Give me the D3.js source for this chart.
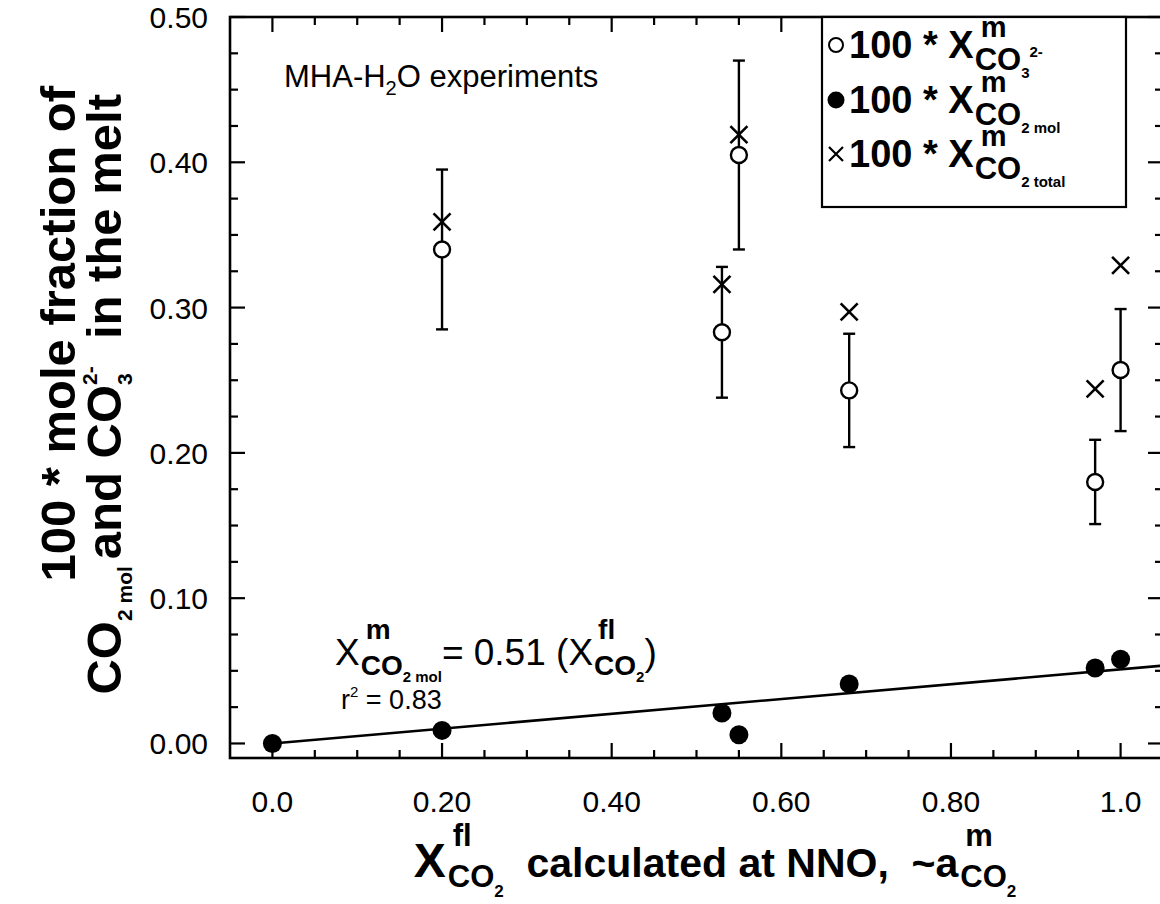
<!DOCTYPE html>
<html>
<head>
<meta charset="utf-8">
<script src="https://cdn.jsdelivr.net/npm/d3@7"></script>
<style>
  html, body { margin: 0; padding: 0; background: #fff; }
  svg { display: block; font-family: "Liberation Sans", Arial, Helvetica, sans-serif; }
</style>
</head>
<body>
<svg id="chart" width="1160" height="904"></svg>
<script>
// Fluid CO2 mole fraction (calculated at NNO) for each experiment
const xFluid = [0.0, 0.20, 0.53, 0.55, 0.68, 0.97, 1.0];
// 100 * mole fraction of molecular CO2 in the melt
const co2Mol = [0.000, 0.009, 0.021, 0.006, 0.041, 0.052, 0.058];
// Experiments with carbonate measurements
const xCarb = [0.20, 0.53, 0.55, 0.68, 0.97, 1.0];
// 100 * mole fraction of CO3^2- in the melt and its uncertainty
const carbonate = [0.340, 0.283, 0.405, 0.243, 0.180, 0.257];
const carbonateErr = [0.055, 0.045, 0.065, 0.039, 0.029, 0.042];
// 100 * total CO2 mole fraction in the melt
const co2Total = [0.359, 0.316, 0.419, 0.297, 0.244, 0.329];
// Linear fit of molecular CO2 through the origin (0.51 in units of 10^-3 mole fraction)
const fitSlope = 0.51 / 10;
// Axis ticks
const xMajorTicks = [0.0, 0.2, 0.4, 0.6, 0.8, 1.0];
const xTickLabels = ["0.0", "0.20", "0.40", "0.60", "0.80", "1.0"];
const yMajorTicks = [0.0, 0.1, 0.2, 0.3, 0.4, 0.5];
const yTickLabels = ["0.00", "0.10", "0.20", "0.30", "0.40", "0.50"];

const svg = d3.select("#chart");
const frame = { left: 230, right: 1163, top: 17, bottom: 758 };

const x = d3.scaleLinear().domain([-0.05, 1.05]).range([frame.left, frame.right]);
const y = d3.scaleLinear().domain([-0.01, 0.5]).range([frame.bottom, frame.top]);

const xMinor = d3.range(0, 21).map(i => i * 0.05);
const yMinor = d3.range(0, 21).map(i => i * 0.025);

const ink = "#000";
const axisW = 2.6;

// ---- ticks (all pointing inward) ----
const tickG = svg.append("g").attr("stroke", ink).attr("stroke-width", 2.2);
const isMajorX = v => xMajorTicks.some(t => Math.abs(t - v) < 1e-9);
const isMajorY = v => yMajorTicks.some(t => Math.abs(t - v) < 1e-9);
xMinor.forEach(v => {
  const L = isMajorX(v) ? 15 : 8;
  tickG.append("line").attr("x1", x(v)).attr("x2", x(v)).attr("y1", frame.bottom).attr("y2", frame.bottom - L);
  tickG.append("line").attr("x1", x(v)).attr("x2", x(v)).attr("y1", frame.top).attr("y2", frame.top + L);
});
yMinor.forEach(v => {
  const L = isMajorY(v) ? 15 : 8;
  tickG.append("line").attr("x1", frame.left).attr("x2", frame.left + L).attr("y1", y(v)).attr("y2", y(v));
  tickG.append("line").attr("x1", frame.right).attr("x2", frame.right - L).attr("y1", y(v)).attr("y2", y(v));
});

// ---- frame ----
svg.append("rect").attr("x", frame.left).attr("y", frame.top)
  .attr("width", frame.right - frame.left).attr("height", frame.bottom - frame.top)
  .attr("fill", "none").attr("stroke", ink).attr("stroke-width", axisW);

// ---- tick labels ----
svg.append("g").selectAll("text").data(xMajorTicks).join("text")
  .attr("x", d => x(d)).attr("y", 812)
  .attr("text-anchor", "middle").attr("font-size", 30)
  .text((d, i) => xTickLabels[i]);
svg.append("g").selectAll("text").data(yMajorTicks).join("text")
  .attr("x", 208).attr("y", d => y(d) + 11)
  .attr("text-anchor", "end").attr("font-size", 30)
  .text((d, i) => yTickLabels[i]);

// ---- rich text helper: sequential segments, with optional stacked sup/sub columns ----
function rich(parent, segs, opts) {
  const g = parent.append("g");
  const inner = g.append("g");
  let cx = 0;
  function put(p, px) {
    const t = inner.append("text")
      .attr("x", px).attr("y", p.dy || 0)
      .attr("font-size", p.size)
      .attr("font-weight", p.weight || "normal")
      .attr("fill", ink)
      .attr("xml:space", "preserve")
      .style("white-space", "pre")
      .text(p.t);
    return t.node().getComputedTextLength() + (p.gap || 0);
  }
  segs.forEach(s => {
    if (s.stack) {
      let w = 0;
      s.stack.forEach(col => {
        let c2 = cx + (col.offset || 0);
        col.parts.forEach(p => { c2 += put(p, c2); });
        w = Math.max(w, c2 - cx);
      });
      cx += w;
    } else {
      cx += put(s, cx);
    }
  });
  const shift = opts.anchor === "middle" ? -cx / 2 : opts.anchor === "end" ? -cx : 0;
  inner.attr("transform", `translate(${shift},0)`);
  g.attr("transform", `translate(${opts.x},${opts.y})` + (opts.rotate ? ` rotate(${opts.rotate})` : ""));
  return g;
}

// ---- plot contents ----
const plot = svg.append("g");

// regression line for molecular CO2
plot.append("line")
  .attr("x1", x(0)).attr("y1", y(0))
  .attr("x2", x(1.05)).attr("y2", y(fitSlope * 1.05))
  .attr("stroke", ink).attr("stroke-width", 2.6);

// error bars on carbonate
const carbData = xCarb.map((xv, i) => ({ x: xv, y: carbonate[i], e: carbonateErr[i], t: co2Total[i] }));
const eb = plot.append("g").attr("stroke", ink).attr("stroke-width", 2.4);
carbData.forEach(d => {
  eb.append("line").attr("x1", x(d.x)).attr("x2", x(d.x)).attr("y1", y(d.y - d.e)).attr("y2", y(d.y + d.e));
  [d.y - d.e, d.y + d.e].forEach(v => {
    eb.append("line").attr("x1", x(d.x) - 6).attr("x2", x(d.x) + 6).attr("y1", y(v)).attr("y2", y(v));
  });
});

// total CO2 crosses
const cr = 8.5;
plot.append("g").attr("stroke", ink).attr("stroke-width", 2.6).selectAll("path")
  .data(carbData).join("path")
  .attr("d", d => {
    const cx = x(d.x), cy = y(d.t);
    return `M${cx - cr},${cy - cr}L${cx + cr},${cy + cr}M${cx - cr},${cy + cr}L${cx + cr},${cy - cr}`;
  });

// carbonate open circles
plot.append("g").selectAll("circle").data(carbData).join("circle")
  .attr("cx", d => x(d.x)).attr("cy", d => y(d.y)).attr("r", 8)
  .attr("fill", "#fff").attr("stroke", ink).attr("stroke-width", 2.4);

// molecular CO2 filled circles
plot.append("g").selectAll("circle").data(xFluid.map((xv, i) => ({ x: xv, y: co2Mol[i] }))).join("circle")
  .attr("cx", d => x(d.x)).attr("cy", d => y(d.y)).attr("r", 9.5)
  .attr("fill", ink);

// ---- annotations ----
rich(svg, [
  { t: "MHA-H", size: 31 },
  { t: "2", size: 20, dy: 8 },
  { t: "O experiments", size: 31 }
], { x: 284, y: 87 });

rich(svg, [
  { t: "X", size: 37 },
  { stack: [
    { offset: 6, parts: [{ t: "m", size: 28, weight: "bold", dy: -26 }] },
    { offset: 1, parts: [{ t: "CO", size: 28, weight: "bold", dy: 10 }, { t: "2 mol", size: 15, weight: "bold", dy: 17 }] }
  ] },
  { t: "= 0.51 (X", size: 37 },
  { stack: [
    { offset: 5, parts: [{ t: "fl", size: 28, weight: "bold", dy: -26 }] },
    { offset: 1, parts: [{ t: "CO", size: 28, weight: "bold", dy: 10 }, { t: "2", size: 15, weight: "bold", dy: 17 }] }
  ] },
  { t: ")", size: 37 }
], { x: 335, y: 665 });

rich(svg, [
  { t: "r", size: 27 },
  { t: "2", size: 15, dy: -12 },
  { t: " = 0.83", size: 27 }
], { x: 341, y: 709 });

// ---- legend ----
const lg = svg.append("g");
lg.append("rect").attr("x", 822).attr("y", 17).attr("width", 304).attr("height", 190)
  .attr("fill", "#fff").attr("stroke", ink).attr("stroke-width", 2.2);
const rowsY = [58, 113, 167];
lg.append("circle").attr("cx", 836).attr("cy", rowsY[0] - 13).attr("r", 7)
  .attr("fill", "#fff").attr("stroke", ink).attr("stroke-width", 2);
lg.append("circle").attr("cx", 836).attr("cy", rowsY[1] - 13).attr("r", 8.5)
  .attr("fill", ink);
lg.append("path").attr("stroke", ink).attr("stroke-width", 2.2)
  .attr("d", `M829,${rowsY[2] - 20}L843,${rowsY[2] - 6}M829,${rowsY[2] - 6}L843,${rowsY[2] - 20}`);

const legendSubs = [
  [{ t: "CO", size: 31, weight: "bold", dy: 12 }, { t: "3", size: 15, weight: "bold", dy: 20 }, { t: "2-", size: 15, weight: "bold", dy: -1 }],
  [{ t: "CO", size: 31, weight: "bold", dy: 12 }, { t: "2 mol", size: 15, weight: "bold", dy: 20 }],
  [{ t: "CO", size: 31, weight: "bold", dy: 12 }, { t: "2 total", size: 15, weight: "bold", dy: 20 }]
];
legendSubs.forEach((sub, i) => {
  rich(lg, [
    { t: "100 * X", size: 38, weight: "bold" },
    { stack: [
      { offset: 7, parts: [{ t: "m", size: 29, weight: "bold", dy: -21 }] },
      { offset: 1, parts: sub }
    ] }
  ], { x: 849, y: rowsY[i] });
});

// ---- axis titles ----
rich(svg, [
  { t: "X", size: 48, weight: "bold" },
  { stack: [
    { offset: 7, parts: [{ t: "fl", size: 31, weight: "bold", dy: -31 }] },
    { offset: 2, parts: [{ t: "CO", size: 31, weight: "bold", dy: 10 }, { t: "2", size: 17, weight: "bold", dy: 20 }] }
  ] },
  { t: "  calculated at NNO,  ~a", size: 41, weight: "bold" },
  { stack: [
    { offset: 7, parts: [{ t: "m", size: 31, weight: "bold", dy: -31 }] },
    { offset: 2, parts: [{ t: "CO", size: 31, weight: "bold", dy: 10 }, { t: "2", size: 17, weight: "bold", dy: 20 }] }
  ] }
], { x: 715, y: 877, anchor: "middle" });

rich(svg, [
  { t: "100 * mole fraction of", size: 49, weight: "bold" }
], { x: 75, y: 86, rotate: -90, anchor: "end" });

rich(svg, [
  { t: "CO", size: 49, weight: "bold" },
  { t: "2 mol", size: 21, weight: "bold", dy: 11, gap: 7 },
  { t: "and CO", size: 49, weight: "bold" },
  { stack: [
    { parts: [{ t: "3", size: 21, weight: "bold", dy: 11 }] },
    { parts: [{ t: "2-", size: 21, weight: "bold", dy: -24 }] }
  ] },
  { t: "  in the melt", size: 49, weight: "bold" }
], { x: 121, y: 94, rotate: -90, anchor: "end" });
</script>
</body>
</html>
